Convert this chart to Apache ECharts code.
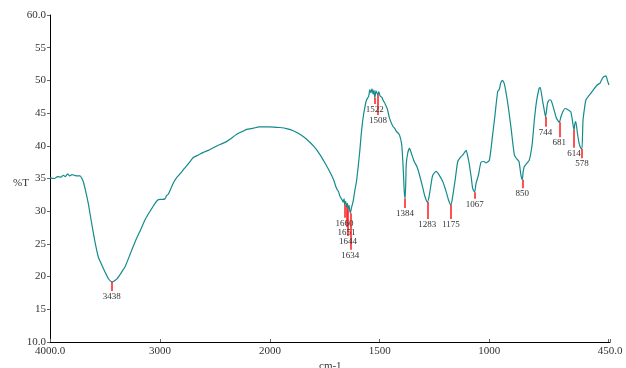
<!DOCTYPE html>
<html>
<head>
<meta charset="utf-8">
<script src="https://cdn.jsdelivr.net/npm/echarts@6/dist/echarts.min.js"></script>
<style>
html, body { margin: 0; padding: 0; background: #fff; }
#container { width: 626px; height: 368px; }
</style>
</head>
<body>
<div id="container"></div>
<script>
// spectrum (wavenumber cm-1, %T)
var wavenumbers = [4000,3960,3930,3900,3880,3860,3840,3820,3800,3780,3750,3727,3710,3697,3675,3652,3630,3606,3585,3561,
	3530,3500,3470,3450,3438,3420,3394,3360,3318,3270,3227,3180,3136,3090,3045,3020,3000,2975,2955,2940,
	2925,2900,2879,2850,2818,2780,2740,2697,2650,2606,2560,2515,2480,2440,2400,2364,2300,2250,2212,2150,
	2100,2030,2000,1955,1920,1894,1860,1833,1800,1773,1750,1727,1710,1697,1688,1680,1672,1667,1662,1660,
	1655,1651,1647,1644,1640,1636,1634,1628,1621,1614,1606,1598,1591,1584,1576,1568,1560,1550,1545,1540,
	1535,1530,1526,1522,1517,1512,1508,1504,1498,1490,1485,1475,1465,1455,1440,1430,1424,1415,1409,1400,
	1397,1392,1388,1384,1381,1379,1372,1364,1355,1345,1341,1330,1318,1305,1295,1283,1275,1265,1258,1242,
	1230,1212,1197,1185,1175,1167,1155,1144,1130,1121,1106,1098,1091,1082,1076,1067,1061,1050,1038,1025,
	1015,1000,985,975,962,955,948,940,932,917,901,886,875,865,856,850,846,841,830,818,
	805,795,785,773,768,758,750,744,735,727,720,712,705,695,681,674,665,655,645,629,
	622,614,610,606,598,591,584,578,573,566,560,550,538,525,508,495,485,477,468,462,455];
var transmittance = [35.1,35.0,35.3,35.2,35.5,35.3,35.7,35.4,35.6,35.5,35.4,35.4,35.0,34.5,33.0,31.2,29.0,26.7,24.8,23.0,
	21.8,20.7,19.7,19.3,19.2,19.3,19.6,20.4,21.5,23.5,25.3,27.0,28.7,30.0,31.2,31.7,31.8,31.8,31.9,32.4,
	32.6,33.5,34.3,35.1,35.7,36.5,37.3,38.2,38.6,39.0,39.3,39.7,40.0,40.3,40.6,41.0,41.8,42.2,42.5,42.7,
	42.9,42.9,42.9,42.8,42.6,42.3,41.7,41.0,39.9,38.7,37.4,36.0,34.8,33.5,33.0,32.2,31.8,31.4,31.9,31.0,
	31.5,30.6,31.2,30.3,30.9,30.0,29.7,30.6,31.5,33.0,34.5,36.8,39.1,41.8,44.2,45.8,47.0,47.6,48.6,48.1,
	48.7,47.9,48.5,47.3,48.4,48.0,47.8,48.3,47.6,47.4,47.0,46.4,45.6,44.2,43.0,42.6,42.2,41.9,41.6,40.3,
	39.1,36.0,33.0,31.9,34.5,37.1,38.9,39.6,38.8,37.8,37.5,36.8,35.5,33.8,32.4,31.4,32.2,34.3,35.5,36.1,
	35.6,34.5,33.0,31.6,30.95,32.3,35.0,37.6,38.3,38.6,39.3,38.3,37.1,35.0,33.5,32.9,34.2,35.5,37.5,37.6,
	37.4,37.8,41.7,44.5,48.3,48.6,49.6,50.0,49.5,46.7,42.7,38.6,38.0,37.6,35.5,34.8,36.0,36.8,37.3,37.8,
	40.2,43.9,46.8,48.8,48.9,47.0,45.5,44.4,46.5,47.0,47.0,46.3,45.5,44.3,43.6,44.4,45.2,45.7,45.6,45.2,
	44.0,42.4,43.4,43.7,41.8,40.4,39.7,39.5,43.9,45.8,47.0,47.5,48.0,48.6,49.3,49.6,50.3,50.6,50.7,50.0,49.3];

// peak marks: wavenumber, top and bottom of the red tick (%T)
var peakWn = [3438,1660,1651,1644,1634,1522,1508,1384,1283,1175,1067,850,744,681,614,578];
var peakTop = [19.2,31.0,30.6,30.3,29.7,47.3,47.8,31.9,31.4,30.95,32.9,34.8,44.4,43.6,42.4,39.5];
var peakBottom = [17.8,29.0,27.6,26.2,24.1,46.4,44.7,30.5,28.8,28.8,31.9,33.5,42.9,41.3,39.7,38.1];

var xTicksHigh = [4000,3000,2000];
var xTicksLow = [1500,1000,450];

var serif = '"Liberation Serif", "DejaVu Serif", serif';
var lineColor = '#138a8c';

function part(lo, hi) {
	var arr = [];
	for (var i = 0; i < wavenumbers.length; ++i) {
		if (wavenumbers[i] >= lo && wavenumbers[i] <= hi)
			arr.push([wavenumbers[i], transmittance[i]]);
	}
	return arr;
}

function marks(lo, hi) {
	var arr = [];
	for (var i = 0; i < peakWn.length; ++i) {
		if (peakWn[i] >= lo && peakWn[i] <= hi)
			arr.push([{ coord: [peakWn[i], peakTop[i]], name: String(peakWn[i]) },
				{ coord: [peakWn[i], peakBottom[i]] }]);
	}
	return arr;
}

function fmtX(v) {
	return (v == 4000 || v == 450) ? v.toFixed(1) : String(v);
}

var myChart = echarts.init(document.getElementById('container'));

var markLineStyle = {
	silent: true,
	symbol: 'none',
	animation: false,
	lineStyle: { color: '#ff1a1a', width: 1.5, type: 'solid', opacity: 1 },
	label: {
		show: true, position: 'end', distance: 1,
		formatter: '{b}', color: '#333', fontSize: 9, fontFamily: serif
	},
	emphasis: { disabled: true }
};

var option = {
	animation: false,
	backgroundColor: '#fff',
	grid: [
		{ left: 50, top: 15, width: 220, height: 327 },
		{ left: 270, top: 15, width: 340, height: 327 }
	],
	xAxis: [
		{
			type: 'value', gridIndex: 0, min: 2000, max: 4000, interval: 1000, inverse: true,
			axisLine: { lineStyle: { color: '#000', width: 1 } },
			axisTick: { show: true, inside: true, length: 3, lineStyle: { color: '#666' } },
			axisLabel: {
				customValues: xTicksHigh, margin: 4, color: '#333', fontSize: 11, fontFamily: serif,
				formatter: fmtX
			},
			splitLine: { show: false }
		},
		{
			type: 'value', gridIndex: 1, min: 450, max: 2000, inverse: true,
			axisLine: { lineStyle: { color: '#000', width: 1 } },
			axisTick: { show: true, inside: true, length: 3, customValues: [1500, 1000, 460, 450], lineStyle: { color: '#666' } },
			axisLabel: {
				customValues: xTicksLow, margin: 4, color: '#333', fontSize: 11, fontFamily: serif,
				formatter: fmtX
			},
			splitLine: { show: false }
		}
	],
	yAxis: [
		{
			type: 'value', gridIndex: 0, min: 10, max: 60, interval: 5,
			axisLine: { show: true, lineStyle: { color: '#000', width: 1 } },
			axisTick: { show: true, length: 3, lineStyle: { color: '#666' } },
			axisLabel: {
				margin: 4, color: '#333', fontSize: 11, fontFamily: serif,
				formatter: function(v) { return (v == 10 || v == 60) ? v.toFixed(1) : String(v); }
			},
			splitLine: { show: false }
		},
		{
			type: 'value', gridIndex: 1, min: 10, max: 60, interval: 5, show: false
		}
	],
	graphic: [
		{ type: 'text', left: 13, top: 178, style: { text: '%T', font: '11px ' + serif, fill: '#333' } },
		{ type: 'text', left: 319, top: 361, style: { text: 'cm-1', font: '11px ' + serif, fill: '#333' } }
	],
	series: [
		{
			type: 'line', xAxisIndex: 0, yAxisIndex: 0, data: part(2000, 4000),
			showSymbol: false, smooth: 0.2, z: 3,
			lineStyle: { color: lineColor, width: 1.2 },
			markLine: Object.assign({ data: marks(2000, 4000) }, markLineStyle)
		},
		{
			type: 'line', xAxisIndex: 1, yAxisIndex: 1, data: part(450, 2000),
			showSymbol: false, smooth: 0.2, z: 3,
			lineStyle: { color: lineColor, width: 1.2 },
			markLine: Object.assign({ data: marks(450, 1999) }, markLineStyle)
		}
	]
};
myChart.setOption(option);
</script>
</body>
</html>
